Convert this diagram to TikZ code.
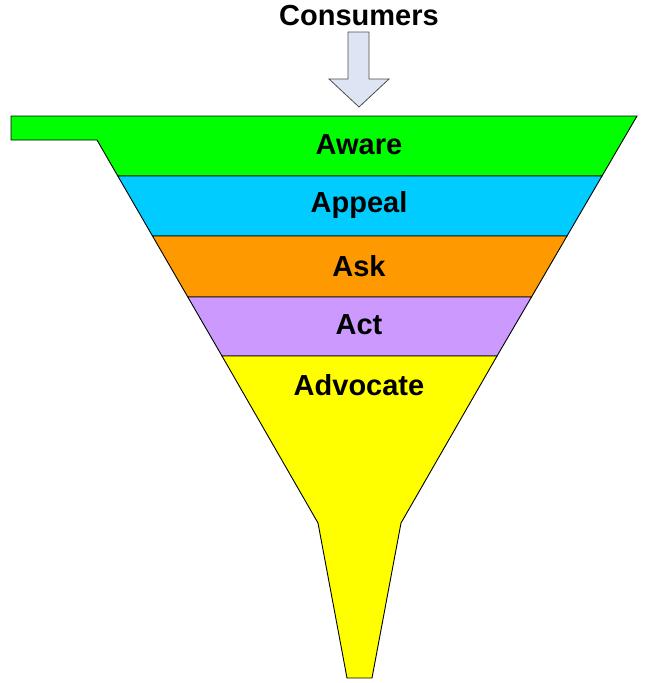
\documentclass[tikz,border=0pt]{standalone}
\usepackage{fontspec}
\setmainfont{Liberation Sans}
\begin{document}
\begin{tikzpicture}[x=1pt,y=-1pt,
  band/.style={draw=black,line width=0.9pt,line join=miter},
  lbl/.style={font=\bfseries\fontsize{29}{34}\selectfont,inner sep=0pt,anchor=center}]
\useasboundingbox (0,0) rectangle (648,683);
\definecolor{cgreen}{HTML}{00FF00}
\definecolor{cblue}{HTML}{00CCFF}
\definecolor{corange}{HTML}{FF9900}
\definecolor{cpurple}{HTML}{CC99FF}
\definecolor{cyellow}{HTML}{FFFF00}
\definecolor{carrow}{HTML}{DDE5F5}
% bands
\draw[band,fill=cgreen] (11,116) -- (637,116) -- (602,176) -- (117.8,176) -- (97,140) -- (11,140) -- cycle;
\draw[band,fill=cblue] (117.8,176) -- (602,176) -- (567,236) -- (152.5,236) -- cycle;
\draw[band,fill=corange] (152.5,236) -- (567,236) -- (531.5,297) -- (187.8,297) -- cycle;
\draw[band,fill=cpurple] (187.8,297) -- (531.5,297) -- (497,356) -- (222,356) -- cycle;
\draw[band,fill=cyellow] (222,356) -- (497,356) -- (401,523) -- (372,678) -- (347,678) -- (318,523) -- cycle;
% arrow
\draw[draw=black!70,line width=0.8pt,fill=carrow] (348,32) -- (369,32) -- (369,79) -- (389,79) -- (359,107) -- (329,79) -- (348,79) -- cycle;
% labels
\node[lbl] (consumers) at (359,16) {Consumers};
\node[lbl] (aware) at (359,145) {Aware};
\node[lbl] (appeal) at (359,205) {Appeal};
\node[lbl] (ask) at (359,266) {Ask};
\node[lbl] (act) at (359,325) {Act};
\node[lbl] (advocate) at (359,385) {Advocate};
\end{tikzpicture}
\end{document}
